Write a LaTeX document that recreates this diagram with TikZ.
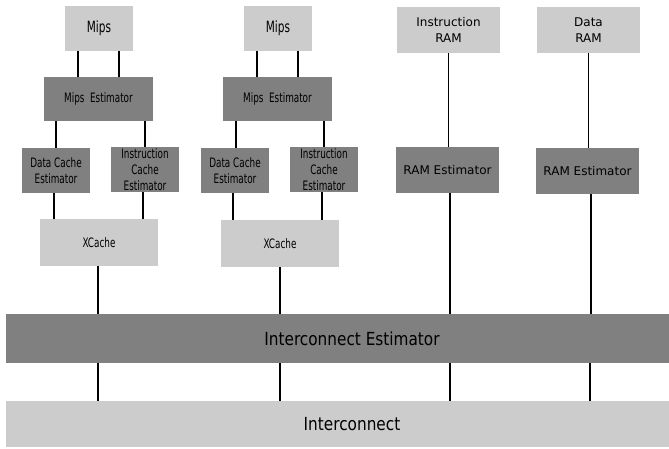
\documentclass[tikz,border=0pt]{standalone}
\usepackage{fontspec}
\setmainfont{DejaVu Sans}
\newfontfamily\narrowfont[FakeStretch=0.68]{DejaVu Sans}
\newfontfamily\busfont[FakeStretch=0.85]{DejaVu Sans}
\usepackage{tikz}
\usetikzlibrary{calc,positioning}
\definecolor{lightbox}{HTML}{CCCCCC}
\definecolor{darkbox}{HTML}{808080}
\tikzset{
  box/.style={inner sep=0pt,align=center,minimum width=68pt,minimum height=45pt},
  light/.style={box,fill=lightbox},
  dark/.style={box,fill=darkbox},
  link/.style={line width=1.1pt},
  small/.style={font=\narrowfont\fontsize{13}{16}\selectfont},
  big/.style={font=\narrowfont\fontsize{15.5}{17}\selectfont},
  ram/.style={font=\fontsize{12}{16}\selectfont,minimum width=103pt,minimum height=46pt},
  bus/.style={minimum width=692pt,font=\busfont\fontsize{18}{20}\selectfont}
}

\begin{document}
\begin{tikzpicture}[x=1pt,y=-1pt]
  \useasboundingbox (0,0) rectangle (669,448);
  % processor columns
  \node[light,big] (mipsA) at (99,28.5) {Mips};
  \node[dark,small,minimum width=109pt,minimum height=44pt] (mipsestA) at (98.5,99) {Mips\ \ Estimator};
  \node[dark,small] (dceA) at (56,170.5) {Data Cache\\Estimator};
  \node[dark,small] (iceA) at (145,169.5) {Instruction\\Cache\\Estimator};
  \node[light,small,minimum width=118pt,minimum height=47pt] (xcA) at (99,242.5) {XCache};
  \node[light,big] (mipsB) at (278,28.5) {Mips};
  \node[dark,small,minimum width=109pt,minimum height=44pt] (mipsestB) at (277.5,99) {Mips\ \ Estimator};
  \node[dark,small] (dceB) at (235,170.5) {Data Cache\\Estimator};
  \node[dark,small] (iceB) at (324,169.5) {Instruction\\Cache\\Estimator};
  \node[light,small,minimum width=118pt,minimum height=47pt] (xcB) at (280,243.5) {XCache};
  % memories
  \node[light,ram] (iram) at (448.5,30) {Instruction\\RAM};
  \node[light,ram] (dram) at (588.5,30) {Data\\RAM};
  \node[dark,ram] (ramestA) at (447.5,170) {RAM Estimator};
  \node[dark,ram] (ramestB) at (587.5,171) {RAM Estimator};
  % bus (runs past the right edge)
  \node[dark,bus,minimum height=49pt] (iest) at (352,338.5) {Interconnect Estimator};
  \node[light,bus,minimum height=46pt] (icon) at (352,424) {Interconnect};

  \draw[link] (mipsA.south -| 78,0) -- (mipsestA.north -| 78,0);
  \draw[link] (mipsA.south -| 119,0) -- (mipsestA.north -| 119,0);
  \draw[link] (mipsestA.south -| 56,0) -- (dceA.north -| 56,0);
  \draw[link] (mipsestA.south -| 145,0) -- (iceA.north -| 145,0);
  \draw[link] (dceA.south -| 54,0) -- (xcA.north -| 54,0);
  \draw[link] (iceA.south -| 143,0) -- (xcA.north -| 143,0);
  \draw[link] (mipsB.south -| 257,0) -- (mipsestB.north -| 257,0);
  \draw[link] (mipsB.south -| 298,0) -- (mipsestB.north -| 298,0);
  \draw[link] (mipsestB.south -| 236,0) -- (dceB.north -| 236,0);
  \draw[link] (mipsestB.south -| 324,0) -- (iceB.north -| 324,0);
  \draw[link] (dceB.south -| 233,0) -- (xcB.north -| 233,0);
  \draw[link] (iceB.south -| 322,0) -- (xcB.north -| 322,0);
  \draw[link] (iram) -- (ramestA.north -| iram);
  \draw[link] (dram) -- (ramestB.north -| dram);

  \draw[link] (xcA.south -| 98,0) -- (iest.north -| 98,0);
  \draw[link] (xcB.south -| 280,0) -- (iest.north -| 280,0);
  \draw[link] (ramestA.south -| 450,0) -- (iest.north -| 450,0);
  \draw[link] (ramestB.south -| 591,0) -- (iest.north -| 591,0);
  \foreach \x in {98,280,450,590}
    \draw[link] (iest.south -| \x,0) -- (icon.north -| \x,0);
\end{tikzpicture}
\end{document}
